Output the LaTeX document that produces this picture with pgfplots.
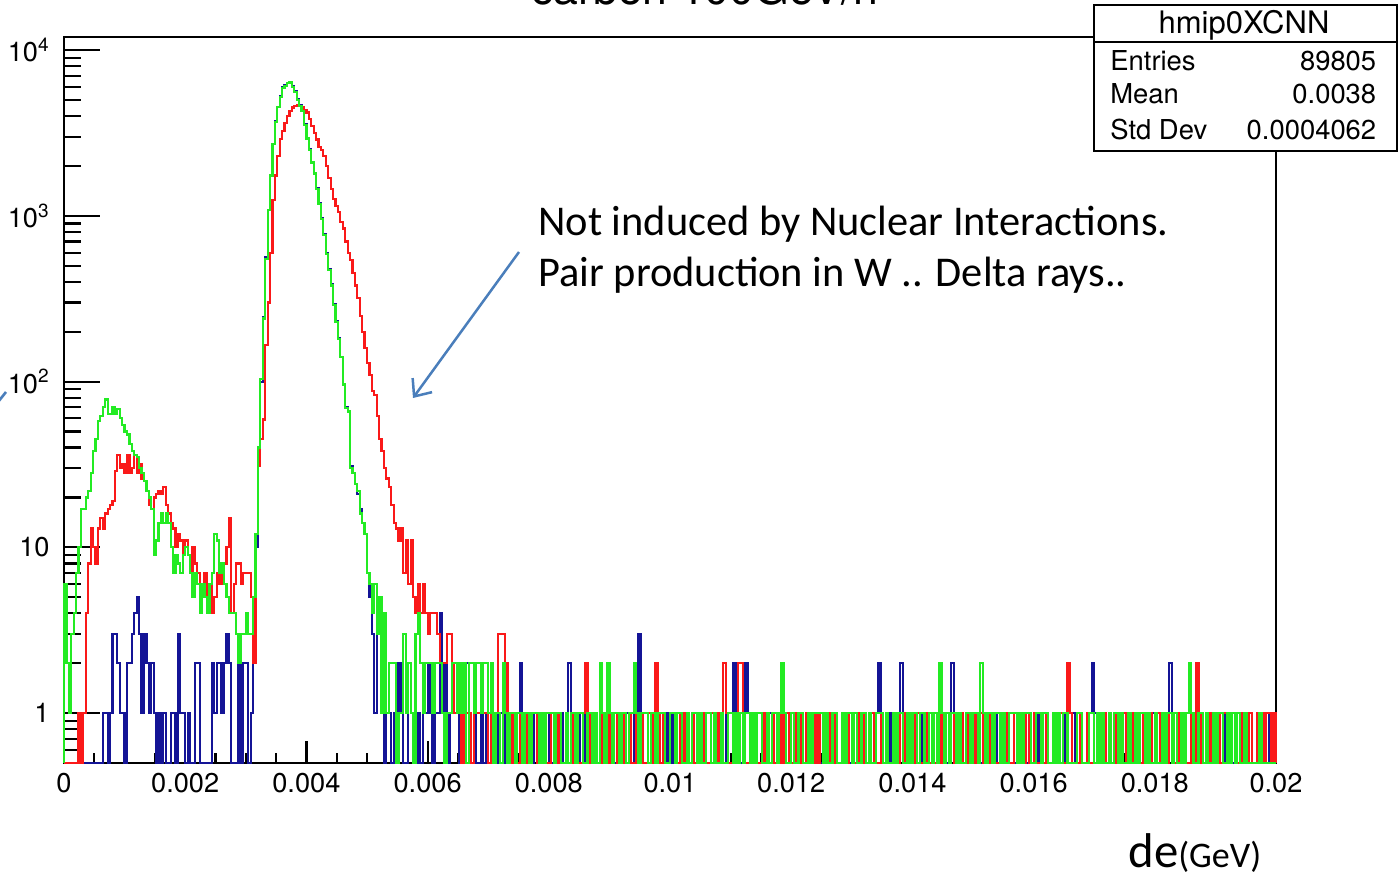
\documentclass[border=0pt]{standalone}
\usepackage{fontspec}
\setmainfont{TeX Gyre Heros}
\newfontfamily\calibri{Carlito}
\usepackage{pgfplots}
\usepackage{pgfplotstable}
\pgfplotsset{compat=1.18}
\usetikzlibrary{arrows.meta}

\definecolor{hblue}{RGB}{20,20,150}
\definecolor{hred}{RGB}{250,25,25}
\definecolor{hgreen}{RGB}{35,235,35}
\definecolor{annot}{RGB}{74,126,187}

% energy deposit histograms, 500 bins of 0.00004 GeV (left bin edge, counts)
% b: blue sample, r: red sample, g: green sample
\pgfplotstableread{
x b r g
0 0 0 0
0.00000 0 0 6
0.00004 0 0 2
0.00008 0 0 1
0.00012 0 0 3
0.00016 0 0 4
0.00020 0 0 7
0.00024 0 1 10
0.00028 0 0 17
0.00032 0 1 17
0.00036 0 4 20
0.00040 0 8 22
0.00044 0 13 28
0.00048 0 10 38
0.00052 0 8 45
0.00056 0 13 58
0.00060 0 15 62
0.00064 1 13 70
0.00068 1 16 78
0.00072 0 17 64
0.00076 1 18 64
0.00080 3 19 70
0.00084 3 29 64
0.00088 2 36 68
0.00092 1 30 60
0.00096 1 32 55
0.00100 0 28 50
0.00104 2 36 48
0.00108 2 28 42
0.00112 3 30 38
0.00116 4 36 36
0.00120 5 28 35
0.00124 3 32 30
0.00128 1 26 28
0.00132 3 25 25
0.00136 2 22 22
0.00140 1 18 20
0.00144 2 17 17
0.00148 1 20 9
0.00152 0 21 11
0.00156 1 22 14
0.00160 0 21 16
0.00164 1 23 14
0.00168 0 18 16
0.00172 0 16 14
0.00176 1 14 10
0.00180 1 13 7
0.00184 0 10 9
0.00188 3 12 8
0.00192 1 11 7
0.00196 1 9 9
0.00200 0 11 10
0.00204 1 9 9
0.00208 0 7 7
0.00212 0 10 5
0.00216 2 8 7
0.00220 2 7 6
0.00224 0 5 4
0.00228 0 6 6
0.00232 0 7 5
0.00236 0 5 4
0.00240 0 6 6
0.00244 2 4 7
0.00248 1 5 12
0.00252 2 7 11
0.00256 2 6 7
0.00260 1 7 8
0.00264 2 8 6
0.00268 3 10 5
0.00272 2 15 4
0.00276 0 4 4
0.00280 0 6 4
0.00284 0 8 3
0.00288 2 8 2
0.00292 0 6 3
0.00296 2 7 3
0.00300 2 7 4
0.00304 0 7 3
0.00308 1 5 3
0.00312 2 2 5
0.00316 10 12 12
0.00320 40 31 40
0.00324 100 45 104
0.00328 245 59 240
0.00332 560 167 550
0.00336 1090 300 1080
0.00340 1760 600 1750
0.00344 2720 1250 2700
0.00348 3720 1750 3700
0.00352 4560 2300 4550
0.00356 5250 2900 5200
0.00360 5950 3250 5900
0.00364 6150 3640 6100
0.00368 6350 4000 6300
0.00372 6450 4300 6400
0.00376 6050 4500 6000
0.00380 5650 4600 5600
0.00384 5050 4650 5000
0.00388 4650 4600 4600
0.00392 4320 4500 4300
0.00396 3580 4350 3550
0.00400 2950 4200 2930
0.00404 2520 3850 2500
0.00408 2120 3470 2100
0.00412 1820 3150 1800
0.00416 1470 2890 1460
0.00420 1190 2600 1180
0.00424 970 2510 960
0.00428 780 2300 770
0.00432 600 2000 590
0.00436 475 1700 470
0.00440 385 1450 380
0.00444 295 1260 290
0.00448 232 1150 230
0.00452 182 1050 180
0.00456 140 915 140
0.00460 95 840 96
0.00464 70 700 69
0.00468 66 600 66
0.00472 31 540 30
0.00476 28 450 28
0.00480 24 380 24
0.00484 21 320 22
0.00488 17 250 16
0.00492 14 200 14
0.00496 12 160 12
0.00500 7 130 7
0.00504 5 110 6
0.00508 3 88 4
0.00512 1 83 6
0.00516 5 62 3
0.00520 3 45 5
0.00524 1 38 1
0.00528 0 30 4
0.00532 1 26 1
0.00536 1 23 2
0.00540 0 18 2
0.00544 1 14 2
0.00548 0 13 0
0.00552 2 11 1
0.00556 1 13 1
0.00560 0 7 3
0.00564 0 11 1
0.00568 2 6 2
0.00572 1 11 1
0.00576 1 5 0
0.00580 0 4 3
0.00584 1 6 4
0.00588 0 4 2
0.00592 1 6 1
0.00596 1 4 2
0.00600 2 3 2
0.00604 1 4 2
0.00608 0 4 1
0.00612 1 4 2
0.00616 1 3 2
0.00620 4 2 2
0.00624 1 2 1
0.00628 2 2 0
0.00632 0 3 1
0.00636 1 3 1
0.00640 2 2 2
0.00644 2 1 2
0.00648 1 2 1
0.00652 0 1 2
0.00656 1 0 1
0.00660 1 2 2
0.00664 2 1 0
0.00668 1 1 2
0.00672 0 0 2
0.00676 1 1 1
0.00680 0 1 2
0.00684 0 1 2
0.00688 1 2 1
0.00692 0 1 2
0.00696 1 1 2
0.00700 1 0 1
0.00704 0 1 2
0.00708 0 1 0
0.00712 1 1 1
0.00716 0 3 1
0.00720 1 3 0
0.00724 1 3 2
0.00728 0 2 1
0.00732 1 1 0
0.00736 0 1 1
0.00740 0 0 1
0.00744 1 1 0
0.00748 0 0 1
0.00752 2 1 1
0.00756 1 1 0
0.00760 0 0 1
0.00764 1 1 1
0.00768 0 0 0
0.00772 0 1 1
0.00776 1 1 1
0.00780 0 0 1
0.00784 1 1 0
0.00788 0 0 1
0.00792 0 1 0
0.00796 1 0 1
0.00800 0 0 1
0.00804 0 1 1
0.00808 1 1 0
0.00812 0 0 1
0.00816 0 1 1
0.00820 1 0 0
0.00824 0 0 0
0.00828 1 1 1
0.00832 2 0 0
0.00836 1 1 1
0.00840 0 0 1
0.00844 0 1 0
0.00848 1 0 1
0.00852 0 0 1
0.00856 0 1 0
0.00860 1 2 0
0.00864 0 1 1
0.00868 0 0 1
0.00872 1 1 0
0.00876 0 0 1
0.00880 0 0 0
0.00884 1 0 2
0.00888 0 1 1
0.00892 0 0 0
0.00896 1 1 2
0.00900 0 0 1
0.00904 1 0 0
0.00908 0 1 1
0.00912 0 0 1
0.00916 0 1 0
0.00920 1 1 1
0.00924 0 0 1
0.00928 1 0 0
0.00932 0 1 1
0.00936 0 0 1
0.00940 1 0 2
0.00944 0 1 1
0.00948 3 0 0
0.00952 1 1 1
0.00956 0 0 1
0.00960 0 0 1
0.00964 1 1 0
0.00968 0 0 1
0.00972 0 1 1
0.00976 1 2 0
0.00980 0 1 1
0.00984 0 0 1
0.00988 0 1 1
0.00992 1 0 0
0.00996 0 0 0
0.01000 1 1 1
0.01004 0 1 1
0.01008 0 0 0
0.01012 1 0 1
0.01016 0 1 1
0.01020 0 0 0
0.01024 1 1 0
0.01028 0 0 1
0.01032 0 0 0
0.01036 1 1 1
0.01040 0 0 1
0.01044 1 0 0
0.01048 0 1 1
0.01052 0 0 0
0.01056 0 1 0
0.01060 1 0 1
0.01064 1 0 1
0.01068 0 1 0
0.01072 0 0 1
0.01076 0 1 0
0.01080 1 0 0
0.01084 0 0 1
0.01088 0 2 0
0.01092 1 1 0
0.01096 0 0 1
0.01100 0 0 1
0.01104 2 0 0
0.01108 1 0 1
0.01112 0 2 0
0.01116 0 2 1
0.01120 0 1 0
0.01124 2 0 1
0.01128 1 0 1
0.01132 0 1 0
0.01136 0 0 1
0.01140 1 1 0
0.01144 0 0 1
0.01148 0 0 1
0.01152 1 1 0
0.01156 0 0 0
0.01160 0 1 1
0.01164 1 0 0
0.01168 0 1 1
0.01172 0 0 1
0.01176 0 0 0
0.01180 1 0 1
0.01184 0 1 2
0.01188 1 0 1
0.01192 0 1 0
0.01196 0 0 0
0.01200 1 0 1
0.01204 0 1 0
0.01208 1 0 0
0.01212 0 1 1
0.01216 0 0 1
0.01220 0 0 0
0.01224 1 1 0
0.01228 0 0 1
0.01232 0 0 0
0.01236 1 0 1
0.01240 0 1 1
0.01244 0 0 1
0.01248 0 1 1
0.01252 1 0 0
0.01256 1 0 1
0.01260 0 1 0
0.01264 0 0 0
0.01268 0 1 1
0.01272 1 0 1
0.01276 0 0 0
0.01280 0 0 0
0.01284 1 1 1
0.01288 0 0 0
0.01292 0 0 1
0.01296 0 1 1
0.01300 1 0 0
0.01304 0 0 1
0.01308 1 0 0
0.01312 0 1 0
0.01316 0 0 1
0.01320 0 1 1
0.01324 0 0 0
0.01328 1 0 1
0.01332 0 1 0
0.01336 0 0 0
0.01340 1 0 1
0.01344 2 0 1
0.01348 1 1 1
0.01352 0 0 0
0.01356 0 1 1
0.01360 0 0 0
0.01364 1 0 0
0.01368 0 1 1
0.01372 0 0 0
0.01376 0 0 1
0.01380 2 1 1
0.01384 1 0 0
0.01388 0 1 0
0.01392 0 0 1
0.01396 1 0 0
0.01400 0 1 1
0.01404 0 0 1
0.01408 0 1 0
0.01412 1 0 1
0.01416 0 0 1
0.01420 0 0 0
0.01424 0 1 0
0.01428 1 0 1
0.01432 0 1 0
0.01436 1 0 1
0.01440 0 0 0
0.01444 0 1 2
0.01448 1 0 1
0.01452 0 0 0
0.01456 0 1 1
0.01460 0 0 0
0.01464 2 1 1
0.01468 1 0 1
0.01472 0 0 0
0.01476 0 0 1
0.01480 1 1 0
0.01484 0 0 0
0.01488 0 1 1
0.01492 1 0 1
0.01496 0 0 0
0.01500 0 0 1
0.01504 0 1 1
0.01508 1 0 0
0.01512 0 1 2
0.01516 0 0 1
0.01520 1 0 0
0.01524 0 1 1
0.01528 1 0 1
0.01532 0 1 0
0.01536 0 0 1
0.01540 1 0 1
0.01544 0 0 0
0.01548 0 1 1
0.01552 0 0 0
0.01556 1 1 0
0.01560 0 0 1
0.01564 0 0 1
0.01568 0 1 1
0.01572 1 0 0
0.01576 0 0 1
0.01580 1 1 0
0.01584 0 0 1
0.01588 0 1 1
0.01592 1 0 1
0.01596 0 0 0
0.01600 0 1 0
0.01604 1 0 1
0.01608 0 0 1
0.01612 0 1 0
0.01616 0 0 1
0.01620 1 1 1
0.01624 0 0 0
0.01628 0 0 0
0.01632 1 1 1
0.01636 0 0 0
0.01640 0 0 1
0.01644 0 1 0
0.01648 1 0 1
0.01652 0 0 1
0.01656 0 2 0
0.01660 0 1 0
0.01664 1 0 0
0.01668 0 0 0
0.01672 0 0 1
0.01676 0 1 1
0.01680 0 0 0
0.01684 0 0 0
0.01688 0 1 0
0.01692 1 0 1
0.01696 2 0 1
0.01700 1 0 0
0.01704 0 1 1
0.01708 0 0 0
0.01712 0 0 1
0.01716 1 1 0
0.01720 0 0 0
0.01724 0 1 1
0.01728 0 0 0
0.01732 1 0 1
0.01736 0 1 1
0.01740 0 0 0
0.01744 0 0 1
0.01748 1 1 0
0.01752 0 0 0
0.01756 0 0 1
0.01760 1 1 0
0.01764 0 0 0
0.01768 0 1 1
0.01772 1 0 0
0.01776 0 0 1
0.01780 1 1 1
0.01784 0 0 0
0.01788 0 0 1
0.01792 0 1 0
0.01796 1 0 0
0.01800 0 0 1
0.01804 0 1 0
0.01808 0 0 0
0.01812 1 0 1
0.01816 0 1 0
0.01820 0 0 1
0.01824 2 1 1
0.01828 1 0 0
0.01832 0 0 1
0.01836 0 1 0
0.01840 0 0 0
0.01844 1 0 1
0.01848 0 1 0
0.01852 0 0 1
0.01856 0 0 2
0.01860 0 1 1
0.01864 1 0 0
0.01868 0 2 0
0.01872 0 1 1
0.01876 1 0 1
0.01880 0 0 0
0.01884 0 1 1
0.01888 1 0 0
0.01892 0 1 0
0.01896 0 0 1
0.01900 0 0 0
0.01904 1 1 1
0.01908 0 0 1
0.01912 1 1 0
0.01916 0 1 0
0.01920 0 0 1
0.01924 0 0 0
0.01928 0 1 1
0.01932 1 0 0
0.01936 0 0 1
0.01940 0 1 0
0.01944 1 0 0
0.01948 0 1 1
0.01952 0 0 0
0.01956 1 1 0
0.01960 0 0 0
0.01964 0 0 0
0.01968 1 1 0
0.01972 0 0 1
0.01976 0 1 0
0.01980 0 0 0
0.01984 0 1 0
0.01988 1 1 0
0.01992 0 0 0
0.01996 0 1 0
0.02000 0 0 0
}\hist

\begin{document}
\begin{tikzpicture}
\path[use as bounding box] (0,0) rectangle (699pt,439pt);
\begin{axis}[
  at={(32pt,57.5pt)}, anchor=south west,
  width=606pt, height=363pt, scale only axis,
  xmin=0, xmax=0.02,
  ymode=log, ymin=0.5, ymax=12000,
  clip=false,
  axis line style={line width=1.2pt, black},
  tick align=inside,
  xtick pos=bottom, ytick pos=left,
  tick style={line width=1.1pt, black},
  xtick style={/pgfplots/major tick length=11pt, /pgfplots/minor tick length=5pt},
  ytick style={/pgfplots/major tick length=18pt, /pgfplots/minor tick length=8.5pt},
  scaled x ticks=false,
  xtick={0,0.002,0.004,0.006,0.008,0.01,0.012,0.014,0.016,0.018,0.02},
  xticklabels={0,0.002,0.004,0.006,0.008,0.01,0.012,0.014,0.016,0.018,0.02},
  minor x tick num=3,
  ytick={1,10,100,1000,10000},
  yticklabels={1,10,10\textsuperscript{2},10\textsuperscript{3},10\textsuperscript{4}},
  minor ytick={0.6,0.7,0.8,0.9,2,3,4,5,6,7,8,9,20,30,40,50,60,70,80,90,200,300,400,500,600,700,800,900,2000,3000,4000,5000,6000,7000,8000,9000},
  xticklabel style={anchor=north, inner sep=0pt, yshift=-5pt, font=\fontsize{13.6}{16}\selectfont},
  yticklabel style={anchor=east, inner sep=0pt, xshift=-7pt, font=\fontsize{13.6}{16}\selectfont},
]
\addplot[const plot mark left, no marks, hblue, line width=1.1pt]
  table[x=x, y expr={max(\thisrow{b},0.5)}] {\hist};
\addplot[const plot mark left, no marks, hred, line width=1.1pt]
  table[x=x, y expr={max(\thisrow{r},0.5)}] {\hist};
\addplot[const plot mark left, no marks, hgreen, line width=1.1pt]
  table[x=x, y expr={max(\thisrow{g},0.5)}] {\hist};
\end{axis}

% statistics box
\fill[white] (547pt,363.5pt) rectangle (698.5pt,436.5pt);
\draw[line width=1pt] (547pt,363.5pt) rectangle (698.5pt,436.5pt);
\draw[line width=1pt] (547pt,418pt) -- (698.5pt,418pt);
\node[anchor=base, inner sep=0pt, font=\fontsize{15.5}{18}\selectfont] at (622pt,422.3pt) {hmip0XCNN};
\begin{scope}[every node/.style={inner sep=0pt, font=\fontsize{13.7}{16}\selectfont}]
\node[anchor=base west] at (555pt,403.7pt) {Entries};
\node[anchor=base east] at (688.3pt,403.7pt) {89805};
\node[anchor=base west] at (555pt,387pt) {Mean};
\node[anchor=base east] at (688.3pt,387pt) {0.0038};
\node[anchor=base west] at (555pt,369.3pt) {Std Dev};
\node[anchor=base east] at (688.3pt,369.3pt) {0.0004062};
\end{scope}

% title, running off the top edge
\node[anchor=base, inner sep=0pt, font=\fontsize{22.3}{26}\selectfont] at (352.5pt,436.5pt) {carbon 100GeV/n};

% annotation
\begin{scope}[every node/.style={anchor=base west, inner sep=0pt, font=\calibri\fontsize{21.2}{25}\selectfont}]
\node at (269pt,321.2pt) {Not induced by Nuclear Interactions.};
\node at (269pt,295.75pt) {Pair production in W .. Delta rays..};
\end{scope}
\draw[annot, line width=1.25pt, -{Straight Barb[length=7pt,width=12pt]}] (259.5pt,313pt) -- (206.5pt,240pt);
\draw[annot, line width=1.3pt] (-1pt,238pt) -- (3pt,243pt);

% axis title
\node[anchor=base west, inner sep=0pt] at (564pt,5pt) {\calibri\fontsize{24.4}{28}\selectfont de\fontsize{18}{21}\selectfont(GeV)};
\end{tikzpicture}
\end{document}
